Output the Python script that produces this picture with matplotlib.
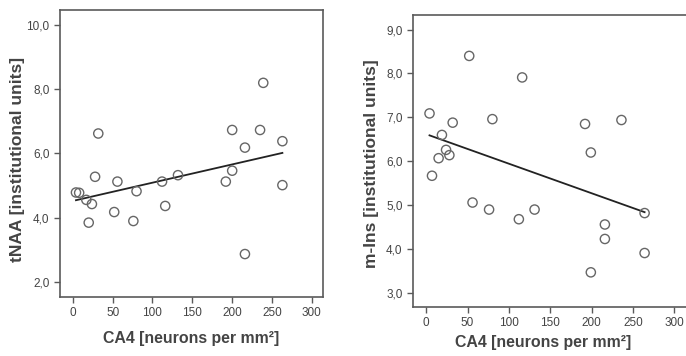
import numpy as np
import matplotlib.pyplot as plt

plt.rcParams['font.family'] = ['Liberation Sans', 'DejaVu Sans']

# left panel: tNAA vs CA4
ca4_naa = [4, 8, 17, 24, 20, 28, 32, 52, 56, 76, 80, 112, 116, 132,
           192, 200, 200, 216, 216, 239, 235, 263, 263]
tnaa = [4.78, 4.77, 4.55, 4.42, 3.84, 5.27, 6.62, 4.17, 5.12, 3.89, 4.82, 5.12, 4.36, 5.32,
        5.12, 6.73, 5.46, 6.18, 2.86, 8.20, 6.73, 6.38, 5.01]

# right panel: m-Ins vs CA4
ca4_ins = [4, 7, 19, 15, 24, 28, 32, 52, 56, 76, 80, 112, 116, 131,
           192, 199, 199, 216, 216, 236, 264, 264]
mins = [7.09, 5.67, 6.60, 6.07, 6.26, 6.14, 6.88, 8.40, 5.06, 4.90, 6.96, 4.68, 7.91, 4.90,
        6.85, 6.20, 3.47, 4.56, 4.23, 6.94, 4.82, 3.91]

xticks = [0, 50, 100, 150, 200, 250, 300]
xlabel = 'CA4 [neurons per mm²]'

grey = '#5a5a5a'
txt = '#444444'

fig = plt.figure(figsize=(6.86, 3.56), dpi=100)
ax1 = fig.add_axes([0.0875, 0.1657, 0.3834, 0.806])
# right panel is cut off at the figure edge in the original
ax2 = fig.add_axes([0.602, 0.1376, 0.41, 0.820])


def panel(ax, x, y, xlim, ylim, yticks, ylabel, xlab_pos, ylab_pos):
    x = np.array(x)
    y = np.array(y)
    ax.scatter(x, y, s=44, facecolors='none', edgecolors='#666666', linewidths=1.0, zorder=3)
    # least squares fit line
    k, d = np.polyfit(x, y, 1)
    xs = np.array([x.min(), x.max()])
    ax.plot(xs, k * xs + d, color='#222222', lw=1.3)
    ax.set_xlim(*xlim)
    ax.set_ylim(*ylim)
    ax.set_xticks(xticks)
    ax.set_yticks(yticks)
    ax.set_yticklabels([('%.1f' % v).replace('.', ',') for v in yticks])
    ax.tick_params(direction='out', length=4, width=1, colors=grey, labelcolor=txt,
                   labelsize=8.5, top=False, right=False)
    for s in ax.spines.values():
        s.set_color(grey)
        s.set_linewidth(1.2)
    ax.set_xlabel(xlabel, fontsize=11.4, fontweight='bold', color=txt, va='center')
    ax.set_ylabel(ylabel, fontsize=12.5, fontweight='bold', color=txt, va='center')
    ax.xaxis.set_label_coords(*xlab_pos)
    ax.yaxis.set_label_coords(*ylab_pos)


panel(ax1, ca4_naa, tnaa, (-16, 314), (1.52, 10.47), [2.0, 4.0, 6.0, 8.0, 10.0],
      'tNAA [institutional units]', (0.5, -0.143), (-0.163, 0.48))
panel(ax2, ca4_ins, mins, (-16, 324), (2.68, 9.33), [3.0, 4.0, 5.0, 6.0, 7.0, 8.0, 9.0],
      'm-Ins [institutional units]', (0.463, -0.123), (-0.146, 0.49))

fig.savefig('out.png', dpi=100)
